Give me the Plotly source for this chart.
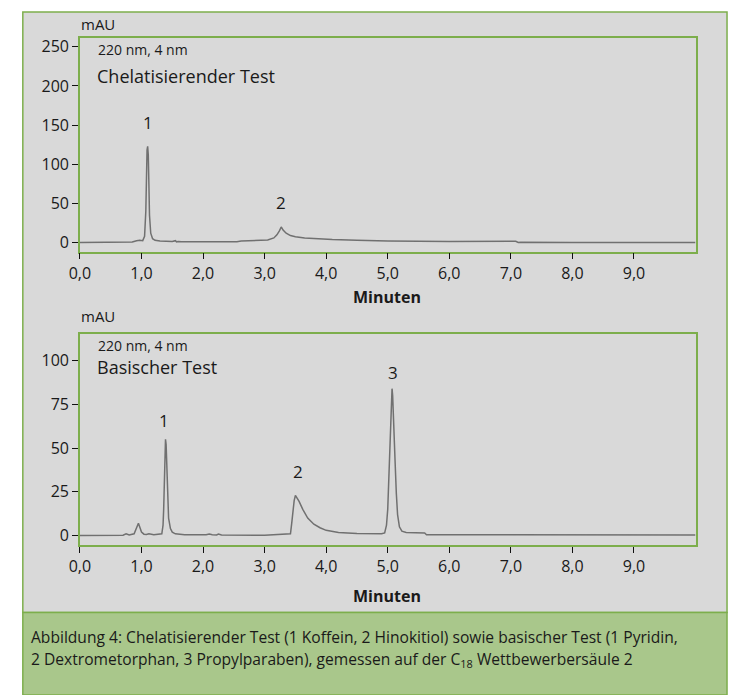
import plotly.graph_objects as go

# ---------------- data ----------------
t_chel = [0.00, 0.50, 0.85, 0.92, 0.97, 1.02, 1.05, 1.07, 1.08, 1.09, 1.10, 1.11,
          1.12, 1.13, 1.15, 1.18, 1.22, 1.30, 1.50, 1.55, 1.57, 1.60, 1.65, 2.00,
          2.55, 2.62, 2.90, 3.05, 3.15, 3.20, 3.24, 3.27, 3.30, 3.35, 3.42, 3.50,
          3.65, 3.85, 4.10, 4.50, 5.00, 6.00, 7.00, 7.08, 7.12, 7.16, 8.00, 10.00]
y_chel = [0.0, 0.2, 0.8, 2.5, 3.0, 2.5, 8.0, 40.0, 90.0, 118.0, 123.0, 112.0,
          75.0, 35.0, 12.0, 5.0, 3.0, 2.0, 1.5, 2.5, 1.0, 1.5, 1.2, 1.0,
          1.2, 2.0, 2.5, 3.5, 6.0, 10.0, 15.0, 20.0, 16.0, 12.0, 9.0, 7.5,
          6.0, 5.0, 4.0, 3.0, 2.0, 1.5, 1.0, 1.8, 0.2, 0.5, 0.2, 0.0]

t_bas = [0.00, 0.70, 0.75, 0.80, 0.88, 0.91, 0.93, 0.95, 0.97, 1.00, 1.04, 1.08,
         1.12, 1.20, 1.33, 1.35, 1.36, 1.37, 1.38, 1.39, 1.40, 1.41, 1.42, 1.44,
         1.47, 1.50, 1.55, 1.70, 2.05, 2.10, 2.15, 2.22, 2.25, 2.30, 3.00, 3.42,
         3.44, 3.46, 3.48, 3.50, 3.52, 3.56, 3.62, 3.70, 3.80, 3.90, 4.00, 4.20,
         4.50, 4.90, 4.95, 4.98, 5.00, 5.02, 5.04, 5.06, 5.07, 5.08, 5.10, 5.12,
         5.14, 5.16, 5.19, 5.23, 5.30, 5.60, 5.63, 10.00]
y_bas = [0.0, 0.2, 1.0, 0.3, 1.0, 3.5, 6.0, 7.0, 5.0, 2.0, 0.8, 0.6,
         1.0, 0.5, 1.0, 6.0, 15.0, 30.0, 45.0, 55.0, 52.0, 40.0, 25.0, 10.0,
         4.0, 2.0, 1.0, 0.5, 0.5, 0.9, 0.5, 0.4, 0.9, 0.3, 0.2, 1.0,
         7.0, 15.0, 20.0, 23.0, 22.0, 19.5, 15.0, 10.0, 6.5, 4.5, 3.0, 1.8,
         1.2, 1.0, 1.5, 6.0, 15.0, 35.0, 62.0, 80.0, 84.0, 80.0, 65.0, 42.0,
         24.0, 12.0, 5.0, 2.5, 1.8, 1.5, 0.5, 0.3]

x_tickvals = [0, 1, 2, 3, 4, 5, 6, 7, 8, 9]
x_ticktext = ["0,0", "1,0", "2,0", "3,0", "4,0", "5,0", "6,0", "7,0", "8,0", "9,0"]
y_top_ticks = [0, 50, 100, 150, 200, 250]
y_bot_ticks = [0, 25, 50, 75, 100]

peaks_top_x = [1.10, 3.27]
peaks_top_y = [153, 51]
peaks_top_lbl = ["1", "2"]
peaks_bot_x = [1.36, 3.54, 5.08]
peaks_bot_y = [66, 36.5, 93]
peaks_bot_lbl = ["1", "2", "3"]

caption_line1 = "Abbildung 4: Chelatisierender Test (1 Koffein, 2 Hinokitiol) sowie basischer Test (1 Pyridin,"
caption_line2 = "2 Dextrometorphan, 3 Propylparaben), gemessen auf der C<sub>18</sub> Wettbewerbersäule 2"

# ---------------- layout helpers ----------------
W, H = 729, 695
FONT = "Open Sans"
def px(x):
    return x / W
def py(y):
    return 1 - y / H

GREEN = "#7dae4c"
LINE = "#707070"

fig = go.Figure()
fig.add_trace(go.Scatter(x=t_chel, y=y_chel, mode="lines",
                         line=dict(color=LINE, width=1.5), xaxis="x", yaxis="y",
                         showlegend=False, hoverinfo="skip"))
fig.add_trace(go.Scatter(x=t_bas, y=y_bas, mode="lines",
                         line=dict(color=LINE, width=1.5), xaxis="x2", yaxis="y2",
                         showlegend=False, hoverinfo="skip"))

axis_common = dict(showline=True, mirror=True, linecolor=GREEN, linewidth=1.5,
                   ticks="outside", tickcolor="#111111", ticklen=6, tickwidth=1.2,
                   showgrid=False, zeroline=False,
                   tickfont=dict(family=FONT, size=16, color="#1a1a1a"))

xdom = [px(70), px(695)]
fig.update_layout(
    width=W, height=H, margin=dict(l=0, r=0, t=0, b=0),
    paper_bgcolor="white", plot_bgcolor="white",
    xaxis=dict(domain=xdom, range=[0, 10], anchor="y", tickvals=x_tickvals,
               ticktext=x_ticktext, **axis_common),
    yaxis=dict(domain=[py(251), py(36)], range=[-11.4, 261.4], anchor="x",
               tickvals=y_top_ticks, **axis_common),
    xaxis2=dict(domain=xdom, range=[0, 10], anchor="y2", tickvals=x_tickvals,
                ticktext=x_ticktext, **axis_common),
    yaxis2=dict(domain=[py(546), py(334)], range=[-5.3, 115.2], anchor="x2",
                tickvals=y_bot_ticks, **axis_common),
)

shapes = [
    dict(type="rect", xref="paper", yref="paper", x0=px(12), x1=px(727),
         y0=py(614), y1=py(10), fillcolor="#d9d9d9", line=dict(color=GREEN, width=1.5),
         layer="below"),
    dict(type="rect", xref="paper", yref="paper", x0=px(12), x1=px(727),
         y0=py(697), y1=py(614), fillcolor="#a9c78b", line=dict(color=GREEN, width=1.5),
         layer="below"),
]
fig.update_layout(shapes=shapes)

ann = []
def txt(x, y, s, size, bold=False, xanchor="left", color="#1a1a1a"):
    ann.append(dict(xref="paper", yref="paper", x=px(x), y=py(y), text=("<b>%s</b>" % s) if bold else s,
                    showarrow=False, xanchor=xanchor, yanchor="middle", borderpad=0,
                    font=dict(family=FONT, size=size, color=color)))

txt(70, 22, "mAU", 15)
txt(87, 48, "220 nm, 4 nm", 14)
txt(86, 74, "Chelatisierender Test", 18)
txt(382, 297, "Minuten", 16, bold=True, xanchor="center")
txt(70, 316, "mAU", 15)
txt(87, 345, "220 nm, 4 nm", 14)
txt(86, 367, "Basischer Test", 18)
txt(382, 597, "Minuten", 16, bold=True, xanchor="center")

for xv, yv, s in zip(peaks_top_x, peaks_top_y, peaks_top_lbl):
    ann.append(dict(xref="x", yref="y", x=xv, y=yv, text=s, showarrow=False,
                    font=dict(family=FONT, size=17, color="#1a1a1a")))
for xv, yv, s in zip(peaks_bot_x, peaks_bot_y, peaks_bot_lbl):
    ann.append(dict(xref="x2", yref="y2", x=xv, y=yv, text=s, showarrow=False,
                    font=dict(family=FONT, size=17, color="#1a1a1a")))

txt(19, 639, caption_line1, 15.6)
txt(19, 661, caption_line2, 15.6)
fig.update_layout(annotations=ann)

fig.write_html("out.html")
